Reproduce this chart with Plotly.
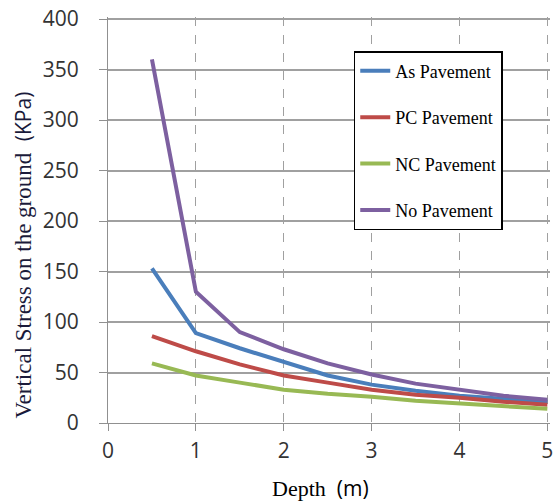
import plotly.graph_objects as go

depth = [0.5, 1.0, 1.5, 2.0, 2.5, 3.0, 3.5, 4.0, 4.5, 5.0]
as_pavement = [153, 89, 74, 60, 47, 38, 32, 27, 24, 21]
pc_pavement = [86, 71, 58, 47, 40, 33, 28, 25, 21, 18]
nc_pavement = [59, 47, 40, 33, 29, 26, 22, 19.5, 17, 14]
no_pavement = [360, 130, 90, 73, 59, 48, 39, 33, 27, 23]

series = [
    ("As Pavement", as_pavement, "#4A7EBB"),
    ("PC Pavement", pc_pavement, "#BE4B48"),
    ("NC Pavement", nc_pavement, "#98B954"),
    ("No Pavement", no_pavement, "#7D60A0"),
]

fig = go.Figure()
for i, (name, vals, color) in enumerate(series):
    fig.add_trace(go.Scatter(
        x=depth, y=vals, mode="lines", name=name,
        line=dict(color=color, width=4),
        legendgroup=f"g{i}",
    ))

sans = "Open Sans"
serif = "Liberation Serif"

fig.update_layout(
    width=555, height=502,
    margin=dict(l=108, r=5, t=17, b=79),
    plot_bgcolor="white", paper_bgcolor="white",
    showlegend=True,
    legend=dict(
        x=0.556, y=0.916, xanchor="left", yanchor="top",
        bordercolor="black", borderwidth=1.5, bgcolor="white",
        font=dict(family=serif, size=18, color="black"),
        tracegroupgap=20,
    ),
    xaxis=dict(
        range=[0, 5.03], tickvals=[0, 1, 2, 3, 4, 5],
        showgrid=True, gridcolor="#A0A0A0", griddash="dash", gridwidth=1,
        showline=True, linecolor="#909090", linewidth=1,
        ticks="outside", ticklen=7, tickcolor="#909090",
        ticklabelstandoff=2,
        tickfont=dict(family=sans, size=21, color="#333333"),
        zeroline=False, automargin=False,
    ),
    yaxis=dict(
        range=[0, 402], tickvals=list(range(0, 401, 50)),
        showgrid=True, gridcolor="#A0A0A0", gridwidth=1.5,
        showline=True, linecolor="#909090", linewidth=1,
        ticks="outside", ticklen=8, tickcolor="#909090",
        ticklabelstandoff=16,
        tickfont=dict(family=sans, size=21, color="#333333"),
        zeroline=False, automargin=False,
    ),
    annotations=[
        dict(text=f'Depth  <span style="font-family:{sans};font-size:21px">(m)</span>',
             xref="paper", yref="paper", x=0.48, y=-0.161,
             xanchor="center", yanchor="middle", showarrow=False,
             font=dict(family=serif, size=22, color="black")),
        dict(text=f'Vertical Stress on the ground  <span style="font-family:{sans};font-size:21px">(KPa)</span>',
             xref="paper", yref="paper", x=-0.192, y=0.413, textangle=-90,
             xanchor="center", yanchor="middle", showarrow=False,
             font=dict(family=serif, size=23, color="#1a1a3a")),
    ],
)

fig.write_html("out.html", config={"displayModeBar": False},
               post_script="document.body.style.margin='0';")
